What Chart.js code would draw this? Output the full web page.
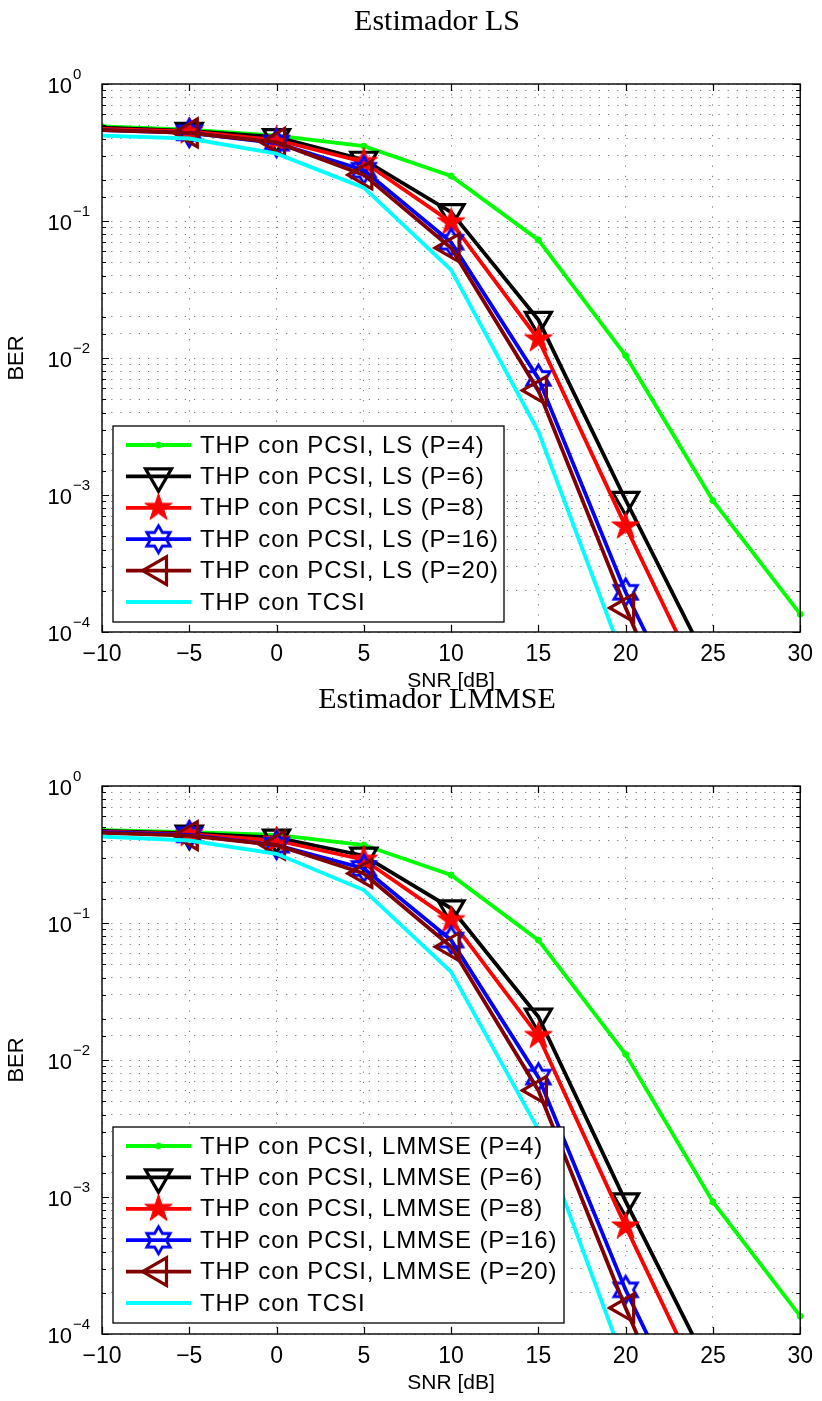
<!DOCTYPE html>
<html><head><meta charset="utf-8">
<script src="https://cdn.jsdelivr.net/npm/chart.js@4/dist/chart.umd.min.js"></script>
<style>
html,body{margin:0;padding:0;background:#fff;width:822px;height:1401px;overflow:hidden;position:relative}
canvas{position:absolute;left:0}
</style></head><body>
<canvas id="c1" width="822" height="700" style="top:0px"></canvas>
<canvas id="c2" width="822" height="721" style="top:680px"></canvas>
<script>
// ---- data ----
const snr = [-10, -5, 0, 5, 10, 15, 20, 25, 30];
const xTicks = [-10, -5, 0, 5, 10, 15, 20, 25, 30];
const yTickExponents = [0, -1, -2, -3, -4];

const lsTitle = 'Estimador LS';
const lsLabels = ['THP con PCSI, LS (P=4)', 'THP con PCSI, LS (P=6)', 'THP con PCSI, LS (P=8)',
                  'THP con PCSI, LS (P=16)', 'THP con PCSI, LS (P=20)', 'THP con TCSI'];
const lsP4  = [0.49, 0.465, 0.42, 0.352, 0.213, 0.0727, 0.0104, 0.00091, 0.000135];
const lsP6  = [0.48, 0.455, 0.41, 0.28, 0.116, 0.019, 0.00092, 0.00005, null];
const lsP8  = [0.47, 0.45, 0.39, 0.27, 0.098, 0.0137, 0.00059, 0.000028, null];
const lsP16 = [0.46, 0.44, 0.37, 0.235, 0.070, 0.0071, 0.000195, 0.00001, null];
const lsP20 = [0.46, 0.44, 0.375, 0.217, 0.0636, 0.0058, 0.00015, 0.000005, null];
const lsTCSI = [0.42, 0.40, 0.31, 0.175, 0.044, 0.0029, 0.000058, null, null];

const lmTitle = 'Estimador LMMSE';
const lmLabels = ['THP con PCSI, LMMSE (P=4)', 'THP con PCSI, LMMSE (P=6)', 'THP con PCSI, LMMSE (P=8)',
                  'THP con PCSI, LMMSE (P=16)', 'THP con PCSI, LMMSE (P=20)', 'THP con TCSI'];
const lmP4  = [0.477, 0.46, 0.44, 0.371, 0.224, 0.075, 0.011, 0.00092, 0.000135];
const lmP6  = [0.47, 0.45, 0.42, 0.31, 0.128, 0.0207, 0.00093, 0.00005, null];
const lmP8  = [0.465, 0.445, 0.40, 0.29, 0.105, 0.015, 0.00061, 0.000028, null];
const lmP16 = [0.46, 0.44, 0.37, 0.25, 0.075, 0.0075, 0.00021, 0.00001, null];
const lmP20 = [0.455, 0.435, 0.37, 0.23, 0.067, 0.006, 0.000155, 0.000005, null];
const lmTCSI = [0.427, 0.40, 0.32, 0.174, 0.044, 0.0031, 0.000058, null, null];

// ---- marker images ----
function starCanvas(n, R, ratio, fill, stroke, lw) {
  const pad = lw + 2;
  const size = Math.ceil(2 * (R + pad));
  const c = document.createElement('canvas');
  c.width = size; c.height = size;
  const g = c.getContext('2d');
  g.translate(size / 2, size / 2);
  g.beginPath();
  for (let i = 0; i < 2 * n; i++) {
    const a = -Math.PI / 2 + i * Math.PI / n;
    const rr = (i % 2) ? R * ratio : R;
    g.lineTo(rr * Math.cos(a), rr * Math.sin(a));
  }
  g.closePath();
  if (fill) { g.fillStyle = fill; g.fill(); }
  if (stroke) { g.lineWidth = lw; g.strokeStyle = stroke; g.lineJoin = 'miter'; g.stroke(); }
  return c;
}
const pentagram = starCanvas(5, 14.5, 0.382, '#ff0000', '#ff0000', 1);
const hexagram = starCanvas(6, 13.5, 0.577, null, '#0000ff', 2.8);

const styles = [
  { color: '#00ff00', pointStyle: 'circle', radius: 3, rotation: 0, bg: '#00ff00', bw: 1, first: true },
  { color: '#000000', pointStyle: 'triangle', radius: 15, rotation: 180, bg: 'rgba(0,0,0,0)', bw: 3.2, first: false },
  { color: '#ff0000', pointStyle: pentagram, radius: 14, rotation: 0, bg: '#ff0000', bw: 1, first: false },
  { color: '#0000ff', pointStyle: hexagram, radius: 13, rotation: 0, bg: 'rgba(0,0,0,0)', bw: 2.8, first: false },
  { color: '#800000', pointStyle: 'triangle', radius: 16, rotation: 270, bg: 'rgba(0,0,0,0)', bw: 3.2, first: false },
  { color: '#00ffff', pointStyle: 'circle', radius: 0, rotation: 0, bg: '#00ffff', bw: 1, first: false }
];

Chart.defaults.color = '#000';
const SANS = "'Liberation Sans', Arial, sans-serif";
const SERIF = "'Liberation Serif', 'Times New Roman', serif";

const framePlugin = {
  id: 'frame',
  afterDraw(chart, args, opts) {
    const ctx = chart.ctx;
    const a = chart.chartArea;
    const xs = chart.scales.x, ys = chart.scales.y;
    ctx.save();
    // box
    ctx.strokeStyle = '#000'; ctx.lineWidth = 1.4; ctx.setLineDash([]);
    ctx.strokeRect(a.left, a.top, a.right - a.left, a.bottom - a.top);
    // x ticks (inward, top and bottom)
    ctx.lineWidth = 1.2;
    ctx.beginPath();
    xTicks.forEach(v => {
      const px = Math.round(xs.getPixelForValue(v)) + 0.5;
      ctx.moveTo(px, a.bottom); ctx.lineTo(px, a.bottom - 7);
      ctx.moveTo(px, a.top); ctx.lineTo(px, a.top + 7);
    });
    // y ticks
    ys.ticks.forEach(t => {
      const py = Math.round(ys.getPixelForValue(t.value)) + 0.5;
      const e = Math.log10(t.value);
      const len = Math.abs(e - Math.round(e)) < 1e-6 ? 7 : 4;
      ctx.moveTo(a.left, py); ctx.lineTo(a.left + len, py);
      ctx.moveTo(a.right, py); ctx.lineTo(a.right - len, py);
    });
    ctx.stroke();
    // y tick labels 10^e
    ctx.fillStyle = '#000';
    yTickExponents.forEach(e => {
      const py = ys.getPixelForValue(Math.pow(10, e));
      ctx.font = '22px ' + SANS;
      ctx.textAlign = 'right'; ctx.textBaseline = 'middle';
      ctx.fillText('10', 72, py + 3);
      ctx.font = '15px ' + SANS;
      ctx.textAlign = 'left';
      ctx.fillText(e === 0 ? '0' : '\u2212' + Math.abs(e), 73, py - 9);
    });
    // title
    ctx.font = '30px ' + SERIF;
    ctx.textAlign = 'center'; ctx.textBaseline = 'middle';
    ctx.fillText(opts.title, 437, opts.titleY);
    // legend
    const L = opts.legend;
    ctx.fillStyle = '#fff';
    ctx.fillRect(L.left, L.top, L.right - L.left, L.bottom - L.top);
    ctx.strokeStyle = '#000'; ctx.lineWidth = 1.3;
    ctx.strokeRect(L.left, L.top, L.right - L.left, L.bottom - L.top);
    chart.data.datasets.forEach((ds, i) => {
      const s = styles[i];
      const y = L.top + 19 + i * 31.4;
      ctx.strokeStyle = s.color; ctx.lineWidth = 3.8;
      ctx.beginPath(); ctx.moveTo(L.left + 13, y); ctx.lineTo(L.left + 78, y); ctx.stroke();
      if (s.radius > 0) {
        ctx.strokeStyle = s.color; ctx.fillStyle = s.bg; ctx.lineWidth = s.bw;
        Chart.helpers.drawPoint(ctx, { pointStyle: s.pointStyle, radius: s.radius, rotation: s.rotation, borderWidth: s.bw }, L.left + 45.5, y);
      }
      ctx.fillStyle = '#000';
      ctx.font = '24px ' + SANS;
      if ('letterSpacing' in ctx) ctx.letterSpacing = '0.9px';
      ctx.textAlign = 'left'; ctx.textBaseline = 'middle';
      ctx.fillText(ds.label, L.left + 87, y + 1);
      if ('letterSpacing' in ctx) ctx.letterSpacing = '0px';
    });
    ctx.restore();
  }
};

function build(id, cfg) {
  const datasets = cfg.series.map((vals, i) => {
    const s = styles[i];
    return {
      label: cfg.labels[i],
      data: snr.map((x, j) => ({ x: x, y: vals[j] })),
      borderColor: s.color,
      backgroundColor: s.bg,
      borderWidth: 3.8,
      tension: 0,
      fill: false,
      order: 5 - i,
      clip: { left: 0, right: 4, top: 0, bottom: 0 },
      pointStyle: s.pointStyle,
      pointRotation: s.rotation,
      pointBorderColor: s.color,
      pointBackgroundColor: s.bg,
      pointBorderWidth: s.bw,
      pointRadius: (c) => (c.dataIndex === 0 && !s.first) ? 0 : s.radius,
      pointHoverRadius: (c) => (c.dataIndex === 0 && !s.first) ? 0 : s.radius
    };
  });
  return new Chart(document.getElementById(id), {
    type: 'line',
    data: { datasets },
    options: {
      responsive: false, animation: false, devicePixelRatio: 1,
      layout: { padding: { left: 0, right: 16, top: cfg.plotTop, bottom: 0 } },
      plugins: {
        legend: { display: false }, tooltip: { enabled: false }, title: { display: false },
        frame: { title: cfg.title, titleY: cfg.titleY, legend: cfg.legend }
      },
      scales: {
        x: {
          type: 'linear', min: -10, max: 30,
          afterBuildTicks: (s) => { s.ticks = xTicks.map(v => ({ value: v })); },
          ticks: { stepSize: 5, autoSkip: false, maxRotation: 0, padding: 9, color: '#000',
                   font: { family: SANS, size: 23 },
                   callback: (v) => String(v).replace('-', '\u2212') },
          grid: { color: '#777', lineWidth: 1, drawTicks: false },
          border: { display: false, dash: [1.2, 9] },
          title: { display: true, text: 'SNR [dB]', color: '#000', font: { family: SANS, size: 21 },
                   padding: { top: 0, bottom: cfg.h - cfg.snrY - 12.6 } },
          afterFit: (s) => { s.height = cfg.h - cfg.plotBottom; }
        },
        y: {
          type: 'logarithmic', min: 1e-4, max: 1,
          ticks: { display: false, autoSkip: false },
          grid: { color: '#777', lineWidth: 1, drawTicks: false },
          border: { display: false, dash: [1.2, 8] },
          title: { display: true, text: 'BER', color: '#000', font: { family: SANS, size: 22 },
                   padding: { top: 4, bottom: 0 } },
          afterFit: (s) => { s.width = 102; }
        }
      }
    },
    plugins: [framePlugin]
  });
}

build('c1', {
  h: 700, plotTop: 84, plotBottom: 632, snrY: 681, titleY: 22, title: lsTitle, labels: lsLabels,
  series: [lsP4, lsP6, lsP8, lsP16, lsP20, lsTCSI],
  legend: { left: 113, top: 426, right: 504, bottom: 622 }
});
build('c2', {
  h: 721, plotTop: 106, plotBottom: 654, snrY: 703, titleY: 20, title: lmTitle, labels: lmLabels,
  series: [lmP4, lmP6, lmP8, lmP16, lmP20, lmTCSI],
  legend: { left: 113, top: 447, right: 564, bottom: 643 }
});
</script>
</body></html>
